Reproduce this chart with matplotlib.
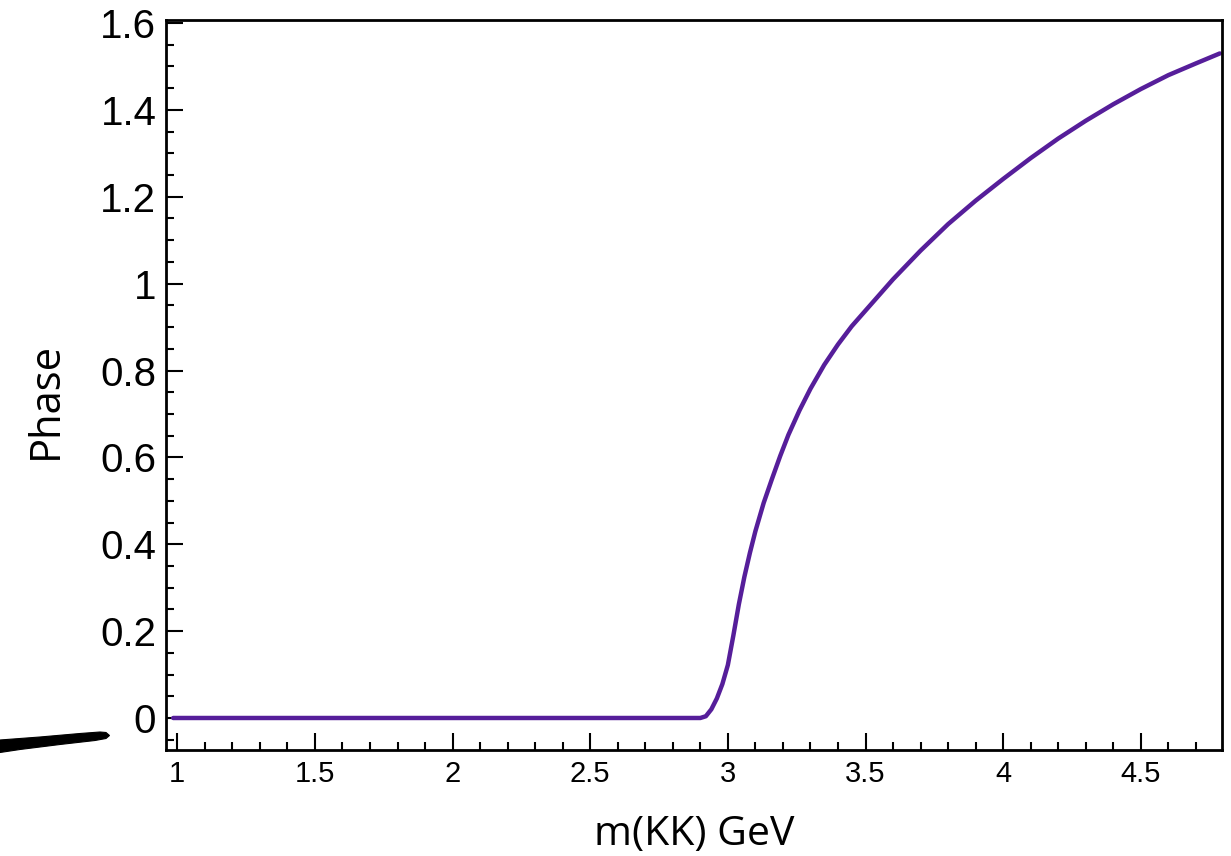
import matplotlib
matplotlib.use("Agg")
import matplotlib.pyplot as plt
from matplotlib.patches import Polygon
from matplotlib.ticker import MultipleLocator

# Phase versus invariant mass m(KK)
mass = [0.985, 1.5, 2.0, 2.5, 2.90, 2.92, 2.94, 2.96, 2.98, 3.00, 3.02,
        3.04, 3.06, 3.08, 3.10, 3.13, 3.16, 3.19, 3.22, 3.26, 3.30, 3.35,
        3.40, 3.45, 3.50, 3.60, 3.70, 3.80, 3.90, 4.00, 4.10, 4.20, 4.30,
        4.40, 4.50, 4.60, 4.70, 4.787]
phase = [0.0, 0.0, 0.0, 0.0, 0.0, 0.004, 0.020, 0.045, 0.078, 0.122, 0.190,
         0.262, 0.325, 0.380, 0.430, 0.495, 0.550, 0.603, 0.652, 0.708,
         0.758, 0.813, 0.860, 0.902, 0.938, 1.010, 1.076, 1.137, 1.191,
         1.241, 1.289, 1.334, 1.375, 1.413, 1.448, 1.480, 1.507, 1.530]

x_ticks = [1, 1.5, 2, 2.5, 3, 3.5, 4, 4.5]
x_tick_labels = ["1", "1.5", "2", "2.5", "3", "3.5", "4", "4.5"]
y_ticks = [0, 0.2, 0.4, 0.6, 0.8, 1.0, 1.2, 1.4, 1.6]
y_tick_labels = ["0", "0.2", "0.4", "0.6", "0.8", "1", "1.2", "1.4", "1.6"]

W, H = 1231, 856
fig = plt.figure(figsize=(W / 100, H / 100), dpi=100)
ax = fig.add_axes([166 / W, 1 - 750 / H, (1222 - 166) / W, (750 - 20) / H])

ax.plot(mass, phase, color="#561E9A", lw=3.2, solid_capstyle="round",
        solid_joinstyle="round")

ax.set_xlim(0.959, 4.795)
ax.set_ylim(-0.0737, 1.607)

ax.set_xticks(x_ticks)
ax.set_xticklabels(x_tick_labels, fontfamily="Liberation Sans", fontsize=21)
ax.set_yticks(y_ticks)
ax.set_yticklabels(y_tick_labels, fontfamily="Liberation Sans", fontsize=29)
ax.xaxis.set_minor_locator(MultipleLocator(0.1))
ax.yaxis.set_minor_locator(MultipleLocator(0.05))

ax.tick_params(which="both", direction="in", top=False, right=False,
               width=1.5, color="black")
ax.tick_params(which="major", length=12.5)
ax.tick_params(which="minor", length=6)
ax.tick_params(axis="x", pad=7)
ax.tick_params(axis="y", pad=7)
for sp in ax.spines.values():
    sp.set_linewidth(2.0)

ax.set_xlabel("m(KK) GeV", fontfamily="Open Sans", fontsize=29.5)
ax.xaxis.label.set_va("center")
ax.xaxis.set_label_coords(0.5, (750 - 835) / 730)
ax.set_ylabel("Phase", fontfamily="Open Sans", fontsize=30)
ax.yaxis.label.set_va("center")
ax.yaxis.set_label_coords((46 - 166) / 1056, (750 - 400.5) / 730)

# tapered pen stroke at the lower left
stroke = [(0, 740), (40, 737), (80, 733.5), (100, 732), (106, 732.5),
          (109.5, 735.5), (106, 738.5), (95, 740.5), (60, 744.5), (20, 749.5),
          (0, 752.5)]
fig.patches.append(Polygon([(x / W, 1 - y / H) for x, y in stroke],
                           closed=True, transform=fig.transFigure,
                           facecolor="black", edgecolor="black", lw=0.8))

fig.savefig("out.png", dpi=100)
